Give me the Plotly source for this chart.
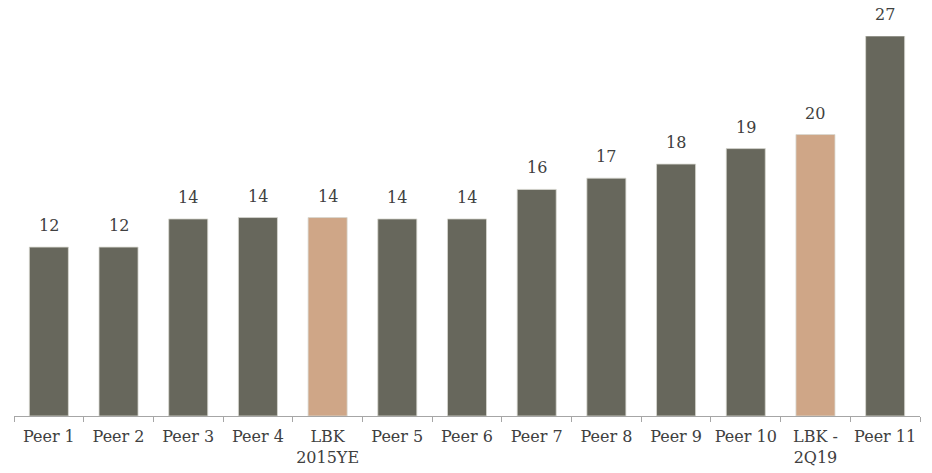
import plotly.graph_objects as go

categories = ["Peer 1", "Peer 2", "Peer 3", "Peer 4", "LBK<br>2015YE", "Peer 5", "Peer 6",
              "Peer 7", "Peer 8", "Peer 9", "Peer 10", "LBK -<br>2Q19", "Peer 11"]
values = [12.0, 12.0, 14.0, 14.1, 14.1, 14.0, 14.0, 16.1, 16.9, 17.9, 19.0, 20.0, 27.0]
highlight = ["LBK<br>2015YE", "LBK -<br>2Q19"]

GRAY = "#67675C"
TAN = "#CFA687"
TEXT = "#404040"
FONT = "DejaVu Serif"
colors = [TAN if c in highlight else GRAY for c in categories]

fig = go.Figure(go.Bar(
    x=categories, y=values,
    marker=dict(color=colors, line=dict(color="#D8D8D0", width=0.8)),
    cliponaxis=False,
))

for c, v in zip(categories, values):
    fig.add_annotation(x=c, y=v, text=f"{v:.0f}", showarrow=False,
                       yanchor="bottom", yshift=10,
                       font=dict(family=FONT, size=16, color=TEXT))

fig.update_layout(
    width=932, height=473,
    margin=dict(l=14, r=12, t=36, b=57, autoexpand=False),
    paper_bgcolor="white", plot_bgcolor="white",
    bargap=0.44,
    showlegend=False,
    font=dict(family=FONT, size=16, color=TEXT),
    xaxis=dict(
        type="category", automargin=False, tickangle=0,
        showline=True, linecolor="#A6A6A6", linewidth=1,
        ticks="outside", tickson="boundaries", ticklen=5, tickcolor="#A6A6A6",
        ticklabelstandoff=6,
        showgrid=False,
        tickfont=dict(family=FONT, size=16, color=TEXT),
    ),
    yaxis=dict(range=[0, 27], visible=False, showgrid=False, zeroline=False),
)

fig.write_html("out.html")
